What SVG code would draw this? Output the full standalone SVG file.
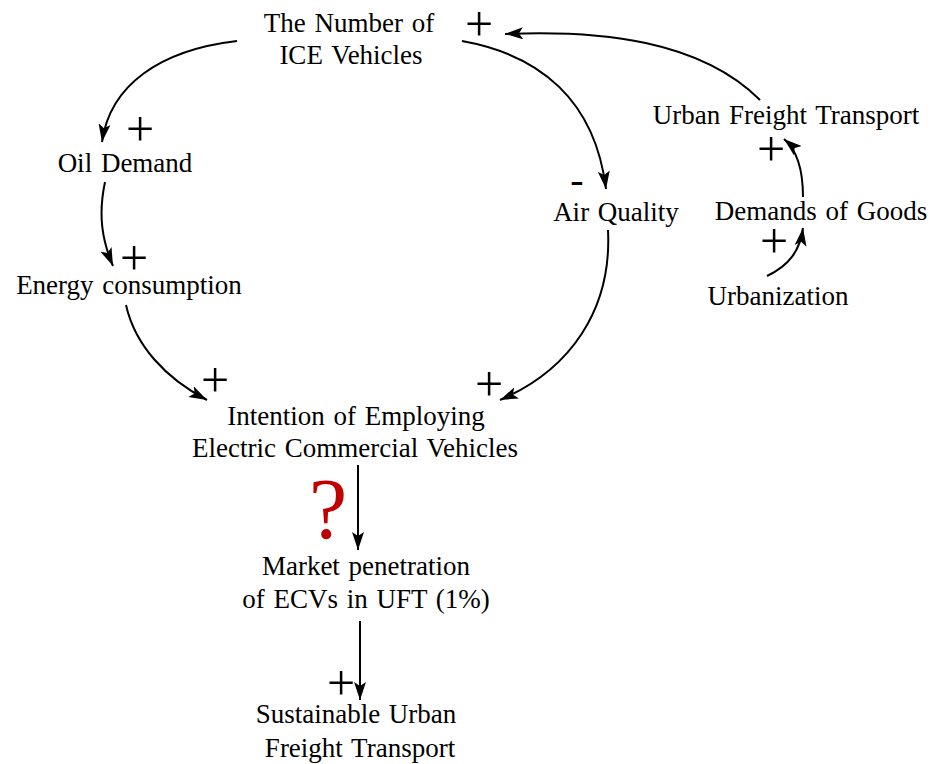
<svg xmlns="http://www.w3.org/2000/svg" width="931" height="764" viewBox="0 0 931 764">
<style>
text{font-family:"Liberation Serif","Times New Roman",serif;fill:#000;text-anchor:middle}
.n{font-size:27px;word-spacing:2px}
.p{font-size:50px}
.m{font-size:40px}
.c{fill:none;stroke:#000;stroke-width:2}
</style>
<defs>
<marker id="ah" markerUnits="userSpaceOnUse" markerWidth="20" markerHeight="12" refX="18" refY="6" orient="auto">
<path d="M0,0 L18,6 L0,12 L4,6 Z" fill="#000"/>
</marker>
</defs>
<rect width="931" height="764" fill="#fff"/>
<g id="connectors">
<path class="c" marker-end="url(#ah)" d="M237,41 C160,50 110,85 102,142"/>
<path class="c" marker-end="url(#ah)" d="M105,182 C98,215 102,240 113,266"/>
<path class="c" marker-end="url(#ah)" d="M126,305 C135,345 165,378 207,400"/>
<path class="c" marker-end="url(#ah)" d="M462,41 C540,55 595,100 606,189"/>
<path class="c" marker-end="url(#ah)" d="M608,230 C612,310 570,370 500,400"/>
<path class="c" marker-end="url(#ah)" d="M760,100 C700,40 600,30 505,34"/>
<path class="c" marker-end="url(#ah)" d="M803,197 C803,170 797,150 784,139"/>
<path class="c" marker-end="url(#ah)" d="M767,276 C790,265 800,250 803,228"/>
<path class="c" marker-end="url(#ah)" d="M358,465 L358,550"/>
<path class="c" marker-end="url(#ah)" d="M360,621 L360,700"/>
</g>
<g id="signs">
<text class="p" x="479" y="41">+</text>
<text class="p" x="140" y="146">+</text>
<text class="p" x="134" y="275">+</text>
<text class="p" x="215" y="397">+</text>
<text class="p" x="489" y="401">+</text>
<text class="p" x="341" y="700">+</text>
<text class="p" x="771" y="166">+</text>
<text class="p" x="774" y="258">+</text>
<text class="m" x="577" y="193">-</text>
<text x="328" y="538" style="font-size:86px;fill:#c00000">?</text>
</g>
<g id="ice"><text class="n" x="349" y="32">The Number of</text><text class="n" x="351" y="64">ICE Vehicles</text></g>
<g id="oil"><text class="n" x="125" y="172">Oil Demand</text></g>
<g id="energy"><text class="n" x="129" y="294">Energy consumption</text></g>
<g id="air"><text class="n" x="616" y="221">Air Quality</text></g>
<g id="uft"><text class="n" x="786" y="124">Urban Freight Transport</text></g>
<g id="goods"><text class="n" x="821" y="220">Demands of Goods</text></g>
<g id="urban"><text class="n" x="778" y="305">Urbanization</text></g>
<g id="intention"><text class="n" x="356" y="425">Intention of Employing</text><text class="n" x="355" y="457">Electric Commercial Vehicles</text></g>
<g id="market"><text class="n" x="366" y="575">Market penetration</text><text class="n" x="366" y="608">of ECVs in UFT (1%)</text></g>
<g id="sustainable"><text class="n" x="356" y="723">Sustainable Urban</text><text class="n" x="360" y="757">Freight Transport</text></g>
</svg>
